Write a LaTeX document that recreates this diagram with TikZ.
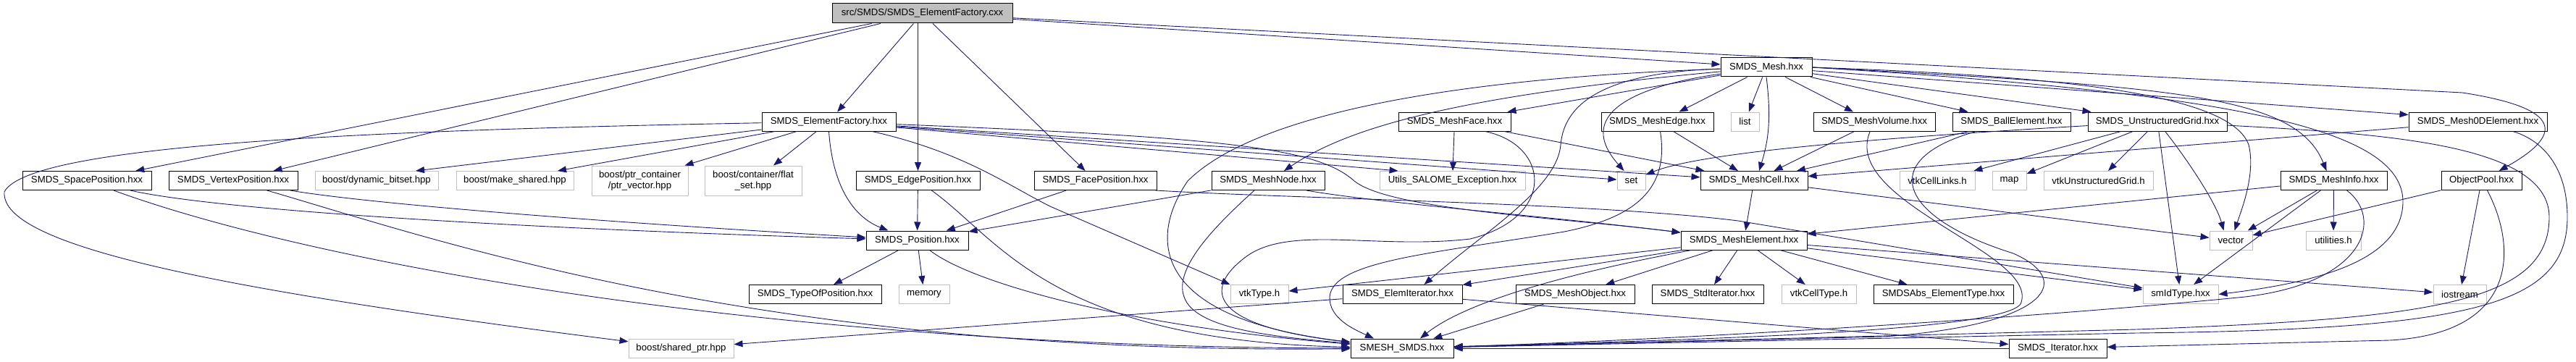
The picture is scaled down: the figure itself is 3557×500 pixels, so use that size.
\documentclass[tikz,border=0pt]{standalone}
\usepackage{fontspec}
\setmainfont{Liberation Sans}
\usetikzlibrary{arrows.meta}

\definecolor{edgeblue}{HTML}{191970}
\definecolor{extgray}{HTML}{BFBFBF}

\tikzset{
  file/.style={draw=black, fill=white, line width=1pt, inner sep=0pt,
    minimum height=26pt, font=\fontsize{13.2}{15.5}\selectfont},
  ext/.style={file, draw=extgray},
  srcfile/.style={file, fill=extgray, minimum height=27pt},
  dep/.style={draw=edgeblue, line width=0.9pt, -{Triangle[length=12pt,width=9pt]}},
}

\begin{document}
\begin{tikzpicture}[x=1pt, y=-1pt]
\useasboundingbox (0,0) rectangle (3557,500);

% top
\node[srcfile, minimum width=249pt] (cxx) at (1273.5,18.5) {src/SMDS/SMDS\_ElementFactory.cxx};
\node[file, minimum width=126pt] (mesh) at (2439,93) {SMDS\_Mesh.hxx};

% row 2
\node[file, minimum width=185pt] (ef) at (1144.5,168) {SMDS\_ElementFactory.hxx};
\node[file, minimum width=155pt] (meshface) at (2008.5,168) {SMDS\_MeshFace.hxx};
\node[file, minimum width=155pt] (meshedge) at (2288.5,168) {SMDS\_MeshEdge.hxx};
\node[ext, minimum width=39pt] (list) at (2409.5,168) {list};
\node[file, minimum width=168pt] (meshvolume) at (2588,168) {SMDS\_MeshVolume.hxx};
\node[file, minimum width=163pt] (ball) at (2777.5,168) {SMDS\_BallElement.hxx};
\node[file, minimum width=192pt] (ugrid) at (2979,168) {SMDS\_UnstructuredGrid.hxx};
\node[file, minimum width=191pt] (mesh0d) at (3421.5,168) {SMDS\_Mesh0DElement.hxx};

% row 3
\node[file, minimum width=178pt] (spacepos) at (120,249.5) {SMDS\_SpacePosition.hxx};
\node[file, minimum width=178pt] (vertexpos) at (322,249.5) {SMDS\_VertexPosition.hxx};
\node[ext, minimum width=170pt] (dynbitset) at (520,249.5) {boost/dynamic\_bitset.hpp};
\node[ext, minimum width=162pt] (makeshared) at (711,249.5) {boost/make\_shared.hpp};
\node[ext, minimum width=133pt, minimum height=41pt, align=center] (ptrvector) at (883.5,249.5) {boost/ptr\_container\\/ptr\_vector.hpp};
\node[ext, minimum width=134pt, minimum height=41pt, align=center] (flatset) at (1040,249.5) {boost/container/flat\\\_set.hpp};
\node[file, minimum width=171pt] (edgepos) at (1267.5,249.5) {SMDS\_EdgePosition.hxx};
\node[file, minimum width=169pt] (facepos) at (1512.5,249.5) {SMDS\_FacePosition.hxx};
\node[file, minimum width=156pt] (meshnode) at (1751,249.5) {SMDS\_MeshNode.hxx};
\node[ext, minimum width=201pt] (salome) at (2005.5,249.5) {Utils\_SALOME\_Exception.hxx};
\node[ext, minimum width=39pt] (set) at (2252.5,249.5) {set};
\node[file, minimum width=148pt] (meshcell) at (2422,249.5) {SMDS\_MeshCell.hxx};
\node[ext, minimum width=104pt] (cellinks) at (2675,249.5) {vtkCellLinks.h};
\node[ext, minimum width=47pt] (map) at (2774.5,249.5) {map};
\node[ext, minimum width=151pt] (vtkugrid) at (2897.5,249.5) {vtkUnstructuredGrid.h};
\node[file, minimum width=147pt] (meshinfo) at (3222.5,249.5) {SMDS\_MeshInfo.hxx};
\node[file, minimum width=111pt] (objpool) at (3426.5,249.5) {ObjectPool.hxx};

% row 4
\node[file, minimum width=141pt] (position) at (1266.5,332) {SMDS\_Position.hxx};
\node[file, minimum width=174pt] (meshelem) at (2408,332) {SMDS\_MeshElement.hxx};
\node[ext, minimum width=59pt] (vector) at (3080.5,332) {vector};
\node[ext, minimum width=76pt] (utilities) at (3222,332) {utilities.h};

% row 5
\node[file, minimum width=183pt] (typeofpos) at (1125.5,406.5) {SMDS\_TypeOfPosition.hxx};
\node[ext, minimum width=70pt] (memory) at (1276,406.5) {memory};
\node[ext, minimum width=80pt] (vtktype) at (1739,406.5) {vtkType.h};
\node[file, minimum width=165pt] (elemiter) at (1936.5,406.5) {SMDS\_ElemIterator.hxx};
\node[file, minimum width=164pt] (meshobject) at (2175,406.5) {SMDS\_MeshObject.hxx};
\node[file, minimum width=154pt] (stditer) at (2358,406.5) {SMDS\_StdIterator.hxx};
\node[ext, minimum width=103pt] (celltype) at (2511.5,406.5) {vtkCellType.h};
\node[file, minimum width=193pt] (abselemtype) at (2683.5,406.5) {SMDSAbs\_ElementType.hxx};
\node[ext, minimum width=104pt] (smidtype) at (3011,406.5) {smIdType.hxx};
\node[ext, minimum width=73pt] (iostream) at (3396.5,406.5) {iostream};

% bottom
\node[ext, minimum width=145pt] (sharedptr) at (940.5,481) {boost/shared\_ptr.hpp};
\node[file, minimum width=142pt] (smesh) at (1936,481) {SMESH\_SMDS.hxx};
\node[file, minimum width=135pt] (iterator) at (2841.5,481) {SMDS\_Iterator.hxx};

% the .cxx
\draw[dep] (cxx) -- (ef);
\draw[dep] (cxx) -- (spacepos);
\draw[dep] (cxx) -- (vertexpos);
\draw[dep] (edgepos |- cxx.south) -- (edgepos);
\draw[dep] (cxx) -- (facepos);
\draw[dep] (cxx) -- (mesh);
\draw[dep] (cxx) -- (3400,128) .. controls (3510,145) and (3560,175) .. (objpool);

% SMDS_ElementFactory.hxx
\draw[dep] (ef) .. controls (500,180) and (40,200) .. (6,265) .. controls (0,340) and (300,400) .. (sharedptr);
\draw[dep] (ef) -- ([xshift=54pt]dynbitset.north);
\draw[dep] (ef) -- ([xshift=59pt]makeshared.north);
\draw[dep] (ef) -- ([xshift=-5pt]ptrvector.north east);
\draw[dep] (ef) -- ([xshift=28pt]ptrvector.north -| flatset);
\draw[dep] (ef.south) .. controls (1150,260) and (1180,300) .. ([xshift=-40pt]position.north);
\draw[dep] (ef) .. controls (1330,210) and (1390,255) .. (1450,285) -- (vtktype.north west);
\draw[dep] (ef) -- ([xshift=-75pt]salome.north);
\draw[dep] (ef) -- (set);
\draw[dep] (ef) -- (meshcell);
\draw[dep] (ef) .. controls (1700,190) and (1820,205) .. (1870,250) .. controls (1920,290) and (2150,300) .. (meshelem);

% SMDS_Mesh.hxx
\draw[dep] (mesh) -- ([xshift=-5pt]meshface.north east);
\draw[dep] (mesh) -- ([xshift=30pt]meshedge.north);
\draw[dep] (mesh) -- (list);
\draw[dep] (mesh) -- ([xshift=-29pt]meshvolume.north);
\draw[dep] (mesh) -- ([xshift=-60pt]ball.north);
\draw[dep] (mesh) -- ([xshift=5pt]ugrid.north west);
\draw[dep] (mesh) -- ([yshift=-4pt]mesh0d.north west);
\draw[dep] (mesh.east) .. controls (3000,120) and (3170,130) .. ([xshift=-10pt]meshinfo.north);
\draw[dep] (mesh.east) .. controls (2850,105) and (3080,130) .. (3105,200) .. controls (3115,240) and (3095,290) .. ([xshift=5pt]vector.north);
\draw[dep] (mesh.east) .. controls (3100,130) and (3320,180) .. (3318,280) .. controls (3316,360) and (3200,390) .. (smidtype.east);
\draw[dep] (mesh) .. controls (2250,120) and (2175,160) .. ([xshift=-10pt]set.north);
\draw[dep] (mesh.south) .. controls (2447,170) and (2440,200) .. ([xshift=7pt]meshcell.north);
\draw[dep] (mesh) .. controls (2040,130) and (1870,170) .. ([xshift=22pt]meshnode.north);
\draw[dep] (mesh) .. controls (2220,100) and (2160,140) .. (2155,200) .. controls (2150,260) and (2050,320) .. ([xshift=30pt]elemiter.north);
\draw[dep] (mesh) .. controls (1950,110) and (1720,170) .. (1640,250) .. controls (1585,330) and (1590,440) .. (smesh);

% positions
\draw[dep] (spacepos) .. controls (300,290) and (700,315) .. (position);
\draw[dep] (vertexpos) .. controls (500,280) and (800,305) .. (position);
\draw[dep] (spacepos) .. controls (450,370) and (1100,480) .. (smesh);
\draw[dep] (vertexpos) .. controls (600,330) and (1050,490) .. (smesh);
\draw[dep] (edgepos) -- (position);
\draw[dep] (edgepos) .. controls (1380,330) and (1450,470) .. (smesh);
\draw[dep] (facepos) -- (position);
\draw[dep] ([xshift=-2pt]facepos.south east) .. controls (1800,275) and (2200,280) .. (2400,305) -- (smidtype);
\draw[dep] (position) -- (typeofpos);
\draw[dep] (position) -- (memory);
\draw[dep] (position) .. controls (1340,390) and (1550,450) .. (smesh);

% SMDS_MeshNode.hxx
\draw[dep] (meshnode) -- (position);
\draw[dep] ([xshift=53pt]meshnode.south) .. controls (1900,280) and (2150,300) .. (meshelem);
\draw[dep] ([xshift=-19pt]meshnode.south) .. controls (1680,310) and (1620,370) .. (1635,410) .. controls (1650,455) and (1760,465) .. (smesh);

% cells
\draw[dep] (meshface) -- (salome);
\draw[dep] (meshface) -- (meshcell);
\draw[dep] ([xshift=42pt]meshface.south) .. controls (2140,200) and (2150,300) .. (2030,330) .. controls (1900,345) and (1780,310) .. (1720,355) .. controls (1660,400) and (1670,450) .. (smesh);
\draw[dep] (meshedge) -- (meshcell);
\draw[dep] ([xshift=4pt]meshedge.south) .. controls (2305,260) and (2260,300) .. (2160,320) .. controls (1980,350) and (1840,360) .. (1836,410) .. controls (1835,440) and (1870,455) .. ([xshift=-39pt]smesh.north);
\draw[dep] (meshvolume) -- (meshcell);
\draw[dep] (meshvolume) .. controls (2540,280) and (2820,350) .. (2790,420) .. controls (2760,460) and (2300,470) .. (smesh);
\draw[dep] (ball) -- (meshcell);
\draw[dep] (ball) .. controls (2590,220) and (2620,300) .. (2780,350) .. controls (2870,390) and (2820,450) .. (2600,465) -- (smesh);
\draw[dep] (mesh0d) -- (meshcell);
\draw[dep] (mesh0d) .. controls (3500,190) and (3545,220) .. (3545,300) .. controls (3545,420) and (3420,455) .. (2950,460) -- (smesh);

% SMDS_UnstructuredGrid.hxx
\draw[dep] (ugrid) .. controls (2600,190) and (2350,210) .. (set);
\draw[dep] (ugrid) -- (cellinks);
\draw[dep] (ugrid) -- (map);
\draw[dep] (ugrid) -- (vtkugrid);
\draw[dep] (ugrid) .. controls (3020,220) and (3060,280) .. ([xshift=-10pt]vector.north);
\draw[dep] (ugrid) -- (smidtype);
\draw[dep] (ugrid) .. controls (3300,185) and (3520,200) .. (3520,300) .. controls (3520,420) and (3350,440) .. (2950,455) -- (smesh);

% SMDS_MeshCell.hxx, SMDS_MeshInfo.hxx, ObjectPool.hxx
\draw[dep] (meshcell) -- (meshelem);
\draw[dep] (meshcell) -- (vector);
\draw[dep] (meshinfo) -- (meshelem);
\draw[dep] (meshinfo) -- (vector);
\draw[dep] (meshinfo) -- (smidtype);
\draw[dep] (meshinfo) -- (utilities);
\draw[dep] (meshinfo) .. controls (3290,300) and (3270,390) .. (3100,410) .. controls (2800,440) and (2300,470) .. (smesh);
\draw[dep] (objpool) -- (vector);
\draw[dep] (objpool) -- (iostream);
\draw[dep] ([xshift=8pt]objpool.south) .. controls (3475,340) and (3480,460) .. (3300,470) -- (iterator);

% SMDS_MeshElement.hxx
\draw[dep] (meshelem) -- (stditer);
\draw[dep] (meshelem) -- (celltype);
\draw[dep] (meshelem) -- (abselemtype);
\draw[dep] (meshelem) -- (iostream);
\draw[dep] (meshelem) -- (smidtype);
\draw[dep] (meshelem) -- (elemiter);
\draw[dep] (meshelem) -- (meshobject);
\draw[dep] (meshelem) -- (vtktype);
\draw[dep] (meshelem) .. controls (2150,380) and (2020,420) .. ([xshift=25pt]smesh.north);

% iterators
\draw[dep] (elemiter) -- (sharedptr);
\draw[dep] (elemiter) -- (iterator);
\draw[dep] (meshobject) -- (smesh);
\draw[dep] (iterator) -- (smesh);
\end{tikzpicture}
\end{document}
